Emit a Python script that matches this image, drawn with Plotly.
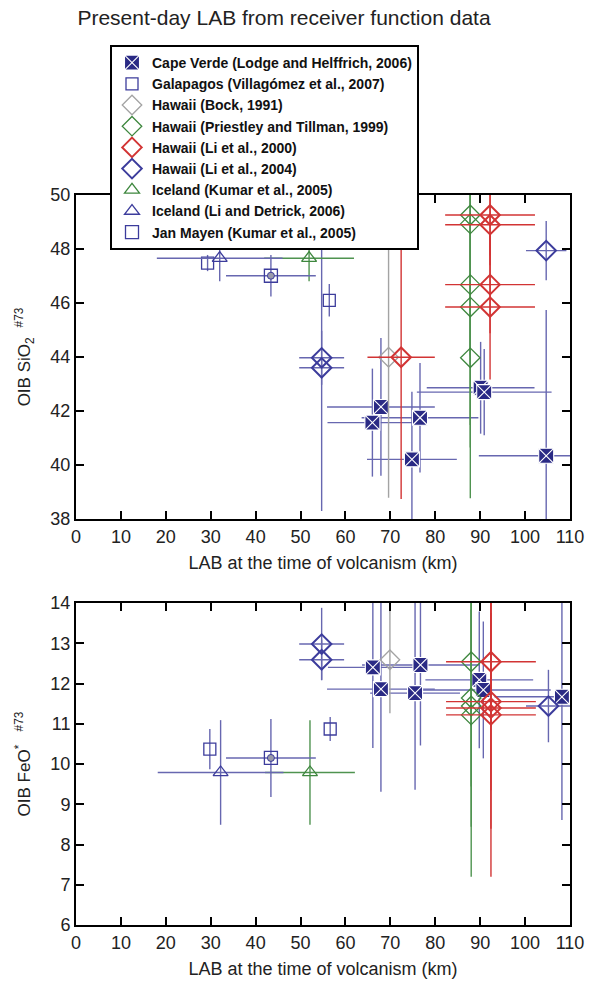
import plotly.graph_objects as go

# ---------------- data: SiO2 (top) ----------------
cv_x_top = [66.0, 67.9, 74.8, 76.6, 90.1, 90.9, 104.7]
cv_y_top = [41.57, 42.15, 40.21, 41.75, 42.86, 42.70, 40.34]
cv_xe_top = [10, 12, 10, 13, 12, 15, 15]
cv_ye_top = [2.0, 2.55, 2.5, 2.03, 1.7, 1.6, 5.4]

gal_x_top = [29.3, 56.4]
gal_y_top = [47.48, 46.10]
gal_ye_top = [0.3, 0.6]

bock_x_top = [69.6]
bock_y_top = [43.99]
bock_ye_top = [5.2]

pt_x_top = [87.8, 87.8, 87.8, 87.8, 87.8]
pt_y_top = [49.26, 48.93, 46.68, 45.85, 43.97]
pt_ye_top = [5.2, 5.2, 5.2, 5.2, 5.2]

li00_x_top = [72.4, 92.2, 92.2, 92.2, 92.2]
li00_y_top = [43.99, 49.26, 48.90, 46.68, 45.85]
li00_xe_top = [7.5, 10, 10, 10, 10]
li00_yep_top = [4.66, 1.5, 1.5, 1.8, 2.68]
li00_yem_top = [5.25, 1.5, 1.5, 1.8, 2.68]

li04_x_top = [54.7, 54.7, 104.7]
li04_y_top = [43.97, 43.60, 47.94]
li04_xe_top = [5, 5, 4.5]
li04_ye_top = [1.0, 5.3, 1.1]

ick_x_top = [51.9]
ick_y_top = [47.66]
ick_xe_top = [10]
ick_ye_top = [0.85]

ild_x_top = [32.0]
ild_y_top = [47.66]
ild_xe_top = [14]
ild_ye_top = [0.85]

jm_x_top = [43.4]
jm_y_top = [47.01]
jm_xe_top = [10]
jm_ye_top = [0.77]

# ---------------- data: FeO* (bottom) ----------------
cv_x_bot = [66.1, 67.9, 75.5, 76.7, 89.8, 90.7, 108.2]
cv_y_bot = [12.40, 11.86, 11.76, 12.46, 12.09, 11.84, 11.67]
cv_xe_bot = [10, 12, 10, 13, 12, 15, 15]
cv_ye_bot = [2.0, 2.55, 2.4, 2.0, 1.7, 1.7, 3.06]

gal_x_bot = [29.8, 56.6]
gal_y_bot = [10.37, 10.87]
gal_ye_bot = [0.5, 0.3]

bock_x_bot = [69.9]
bock_y_bot = [12.59]
bock_ye_bot = [1.33]

pt_x_bot = [88.0, 88.0, 88.0, 88.0]
pt_y_bot = [12.54, 11.64, 11.44, 11.22]
pt_ye_bot = [1.6, 2.2, 3.0, 4.02]

li00_x_bot = [92.4, 92.4, 92.4, 92.4]
li00_y_bot = [12.54, 11.55, 11.39, 11.22]
li00_xe_bot = [10, 10, 10, 10]
li00_ye_bot = [1.6, 2.2, 3.0, 4.02]

li04_x_bot = [54.7, 54.7, 105.2]
li04_y_bot = [12.98, 12.59, 11.44]
li04_xe_bot = [5, 5, 5]
li04_ye_bot = [0.9, 0.5, 0.9]

ick_x_bot = [52.1]
ick_y_bot = [9.79]
ick_xe_bot = [10]
ick_ye_bot = [1.3]

ild_x_bot = [32.2]
ild_y_bot = [9.79]
ild_xe_bot = [14]
ild_ye_bot = [1.3]

jm_x_bot = [43.4]
jm_y_bot = [10.15]
jm_xe_bot = [10]
jm_ye_bot = [0.97]

x_ticks = [0, 10, 20, 30, 40, 50, 60, 70, 80, 90, 100, 110]

names = [
    "Cape Verde (Lodge and Helffrich, 2006)",
    "Galapagos (Villagómez et al., 2007)",
    "Hawaii (Bock, 1991)",
    "Hawaii (Priestley and Tillman, 1999)",
    "Hawaii (Li et al., 2000)",
    "Hawaii (Li et al., 2004)",
    "Iceland (Kumar et al., 2005)",
    "Iceland (Li and Detrick, 2006)",
    "Jan Mayen (Kumar et al., 2005)",
]

NAVY = "#2a2a85"
BLUE = "#3c3c9c"
BLUE_L = "#6767b0"
GREEN = "#3e873e"
GREEN_L = "#4f9350"
RED = "#d23434"
GREY = "#a3a3a3"

fig = go.Figure()


def err(arr, color, minus=None):
    if arr is None:
        return dict(visible=False)
    d = dict(type="data", array=arr, color=color, thickness=1.4, width=0, visible=True)
    if minus is not None:
        d["symmetric"] = False
        d["arrayminus"] = minus
    return d


def add(x, y, xe, ye, name, symbol, size, mcolor, lcolor, ecolor, top, yem=None, lw=1.3):
    fig.add_trace(go.Scatter(
        x=x, y=y, mode="markers", name=name,
        xaxis="x" if top else "x2", yaxis="y" if top else "y2",
        showlegend=top, legendgroup=name,
        marker=dict(symbol=symbol, size=size, color=mcolor,
                    line=dict(color=lcolor, width=lw)),
        error_x=err(xe, ecolor), error_y=err(ye, ecolor, yem),
    ))


for top in (True, False):
    t = top
    if t:
        d = dict(cv=(cv_x_top, cv_y_top, cv_xe_top, cv_ye_top),
                 gal=(gal_x_top, gal_y_top, None, gal_ye_top),
                 bock=(bock_x_top, bock_y_top, None, bock_ye_top),
                 pt=(pt_x_top, pt_y_top, None, pt_ye_top),
                 li00=(li00_x_top, li00_y_top, li00_xe_top, li00_yep_top),
                 li04=(li04_x_top, li04_y_top, li04_xe_top, li04_ye_top),
                 ick=(ick_x_top, ick_y_top, ick_xe_top, ick_ye_top),
                 ild=(ild_x_top, ild_y_top, ild_xe_top, ild_ye_top),
                 jm=(jm_x_top, jm_y_top, jm_xe_top, jm_ye_top))
        li00_minus = li00_yem_top
    else:
        d = dict(cv=(cv_x_bot, cv_y_bot, cv_xe_bot, cv_ye_bot),
                 gal=(gal_x_bot, gal_y_bot, None, gal_ye_bot),
                 bock=(bock_x_bot, bock_y_bot, None, bock_ye_bot),
                 pt=(pt_x_bot, pt_y_bot, None, pt_ye_bot),
                 li00=(li00_x_bot, li00_y_bot, li00_xe_bot, li00_ye_bot),
                 li04=(li04_x_bot, li04_y_bot, li04_xe_bot, li04_ye_bot),
                 ick=(ick_x_bot, ick_y_bot, ick_xe_bot, ick_ye_bot),
                 ild=(ild_x_bot, ild_y_bot, ild_xe_bot, ild_ye_bot),
                 jm=(jm_x_bot, jm_y_bot, jm_xe_bot, jm_ye_bot))
        li00_minus = None
    add(*d["cv"], names[0], "square-x", 15, NAVY, "white", BLUE_L, t, lw=1.1)
    add(*d["gal"], names[1], "square-open", 12, BLUE, BLUE, BLUE_L, t)
    add(*d["bock"], names[2], "diamond-open", 15, GREY, GREY, GREY, t)
    add(*d["pt"], names[3], "diamond-open", 15, GREEN, GREEN, GREEN_L, t)
    add(*d["li00"], names[4], "diamond-open", 15, RED, RED, RED, t, yem=li00_minus, lw=2)
    add(*d["li04"], names[5], "diamond-open", 15, BLUE, BLUE, BLUE_L, t, lw=2)
    add(*d["ick"], names[6], "triangle-up-open", 13, GREEN, GREEN, GREEN_L, t)
    add(*d["ild"], names[7], "triangle-up-open", 13, BLUE, BLUE, BLUE_L, t)
    add(*d["jm"], names[8], "square-open", 13, BLUE, BLUE, BLUE_L, t)
    jx, jy = d["jm"][0], d["jm"][1]
    fig.add_trace(go.Scatter(
        x=jx, y=jy, mode="markers", showlegend=False,
        xaxis="x" if t else "x2", yaxis="y" if t else "y2",
        marker=dict(symbol="circle", size=7, color="#9a9aaa",
                    line=dict(color=BLUE, width=1)),
    ))

FONT = "Liberation Sans, Arial, sans-serif"
TXT = "#222222"

axis_common = dict(
    showline=True, linewidth=2, linecolor="black", mirror="ticks",
    ticks="inside", ticklen=8, tickwidth=2, tickcolor="black",
    showgrid=False, zeroline=False, automargin=False,
    tickfont=dict(size=18, color=TXT, family=FONT),
)

top_dom = [(925 - 519) / 730, 1.0]
bot_dom = [0.0, (925 - 603) / 730]

xtitle = dict(text="LAB at the time of volcanism (km)", standoff=11,
              font=dict(size=18, family=FONT, color=TXT))

fig.update_layout(
    width=590, height=983,
    margin=dict(l=76, r=20, t=195, b=58),
    paper_bgcolor="white", plot_bgcolor="white",
    font=dict(family=FONT, color=TXT),
    title=dict(text="Present-day LAB from receiver function data",
               x=284 / 590, xanchor="center", y=1 - 18 / 983, yanchor="middle",
               font=dict(size=21, family=FONT, color=TXT)),
    xaxis=dict(domain=[0, 1], anchor="y", range=[0, 110], tickvals=x_ticks,
               title=xtitle, **axis_common),
    yaxis=dict(domain=top_dom, anchor="x", range=[38, 50], dtick=2,
               title=dict(text="OIB SiO<sub>2</sub><sup>   #73</sup>", standoff=15,
                          font=dict(size=17, family=FONT, color=TXT)),
               **axis_common),
    xaxis2=dict(domain=[0, 1], anchor="y2", range=[0, 110], tickvals=x_ticks,
                title=xtitle, **axis_common),
    yaxis2=dict(domain=bot_dom, anchor="x2", range=[6, 14], dtick=1,
                title=dict(text="OIB FeO<sup>*</sup><sup>    #73</sup>", standoff=15,
                           font=dict(size=17, family=FONT, color=TXT)),
                **axis_common),
    legend=dict(x=34 / 494, y=(925 - 45) / 730, xanchor="left", yanchor="top",
                bgcolor="white", bordercolor="black", borderwidth=2,
                font=dict(size=14, family=FONT, color="#111111", weight="bold"),
                itemwidth=30, tracegroupgap=0),
)

fig.write_html("out.html")
